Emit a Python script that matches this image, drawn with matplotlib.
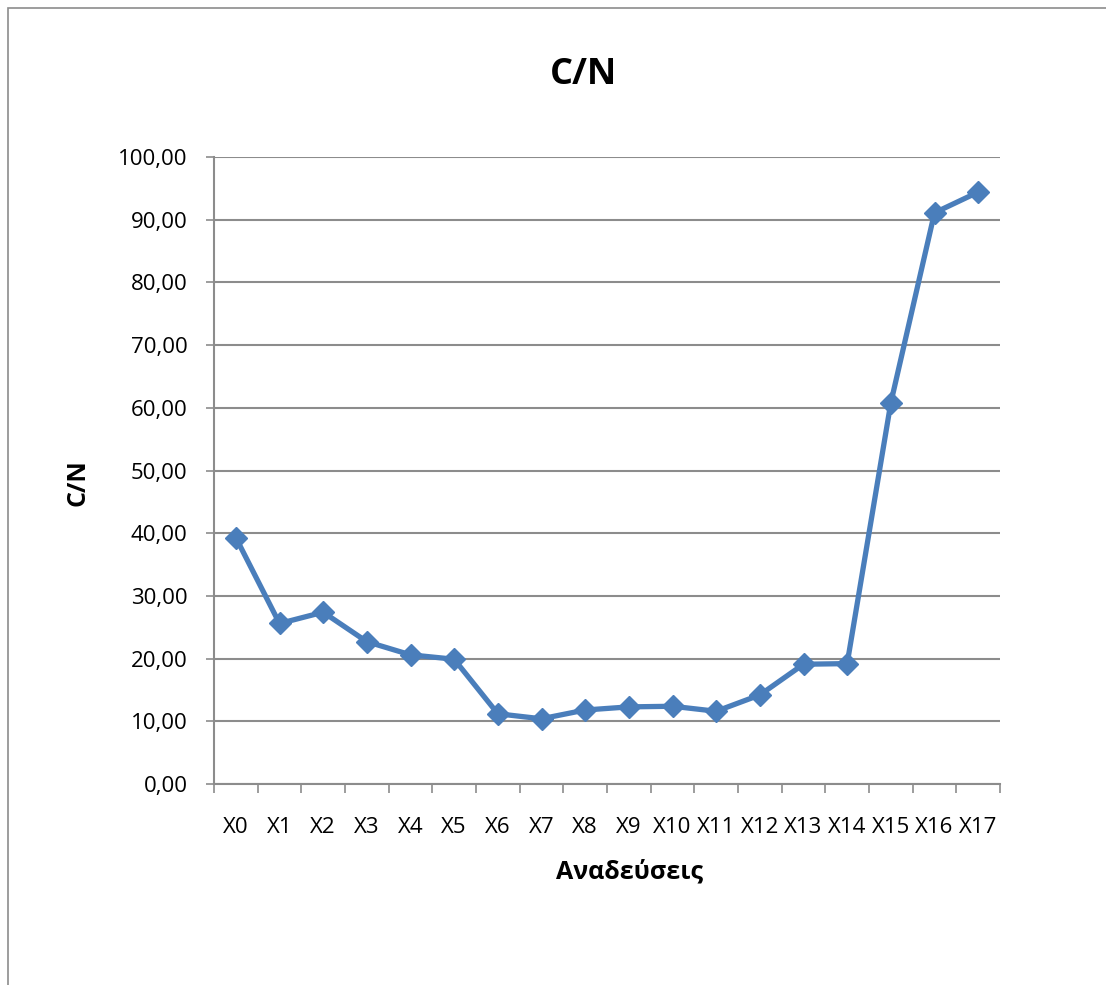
import numpy as np
import matplotlib.pyplot as plt
from matplotlib.patches import Rectangle
from matplotlib.ticker import FuncFormatter

# C/N ratio per sample
labels = ['X0', 'X1', 'X2', 'X3', 'X4', 'X5', 'X6', 'X7', 'X8', 'X9',
          'X10', 'X11', 'X12', 'X13', 'X14', 'X15', 'X16', 'X17']
cn_values = [39.3, 25.6, 27.4, 22.7, 20.6, 19.9, 11.2, 10.4, 11.8, 12.3,
             12.4, 11.6, 14.2, 19.1, 19.2, 60.8, 91.1, 94.4]

plt.rcParams['font.family'] = ['Open Sans', 'DejaVu Sans']

fig = plt.figure(figsize=(11.06, 9.85), dpi=100)
fig.patches.append(Rectangle((8 / 1106, -0.01), 1.1, 1 - 8 / 985 + 0.01,
                             transform=fig.transFigure, fill=False,
                             edgecolor='#8c8c8c', linewidth=1.2))

ax = fig.add_axes([214 / 1106, 1 - 784 / 985, 786 / 1106, 627 / 985])

x = np.arange(len(labels))
ax.plot(x, cn_values, color='#4a7ebb', linewidth=3.8, marker='D',
        markersize=11, markerfacecolor='#4a7ebb', markeredgecolor='#4a7ebb',
        zorder=3)

ax.set_xlim(-0.5, len(labels) - 0.5)
ax.set_ylim(0, 100)
ax.set_yticks(np.arange(0, 101, 10))
ax.yaxis.set_major_formatter(FuncFormatter(lambda v, p: f'{v:.2f}'.replace('.', ',')))
ax.grid(axis='y', color='#8c8c8c', linewidth=1.5)
ax.set_axisbelow(True)

ax.set_xticks(x)
ax.set_xticklabels(labels)
ax.set_xticks(np.arange(-0.5, len(labels)), minor=True)
ax.tick_params(axis='x', which='major', length=0, pad=24, labelsize=16)
ax.tick_params(axis='x', which='minor', length=6.5, width=1.2, color='#8c8c8c')
ax.tick_params(axis='y', length=6, width=1.2, color='#8c8c8c', pad=13, labelsize=16)

for side in ['top', 'right']:
    ax.spines[side].set_visible(False)
for side in ['left', 'bottom']:
    ax.spines[side].set_color('#8c8c8c')
    ax.spines[side].set_linewidth(1.5)

fig.text(584 / 1106, 1 - 75 / 985, 'C/N', ha='center', va='center',
         fontsize=26, fontweight='bold')
fig.text(78 / 1106, 1 - 483 / 985, 'C/N', ha='center', va='center',
         rotation=90, fontsize=18, fontweight='bold')
fig.text(629 / 1106, 1 - 872 / 985, 'Αναδεύσεις', ha='center', va='center',
         fontsize=18, fontweight='bold')

fig.savefig('out.png', dpi=100)
